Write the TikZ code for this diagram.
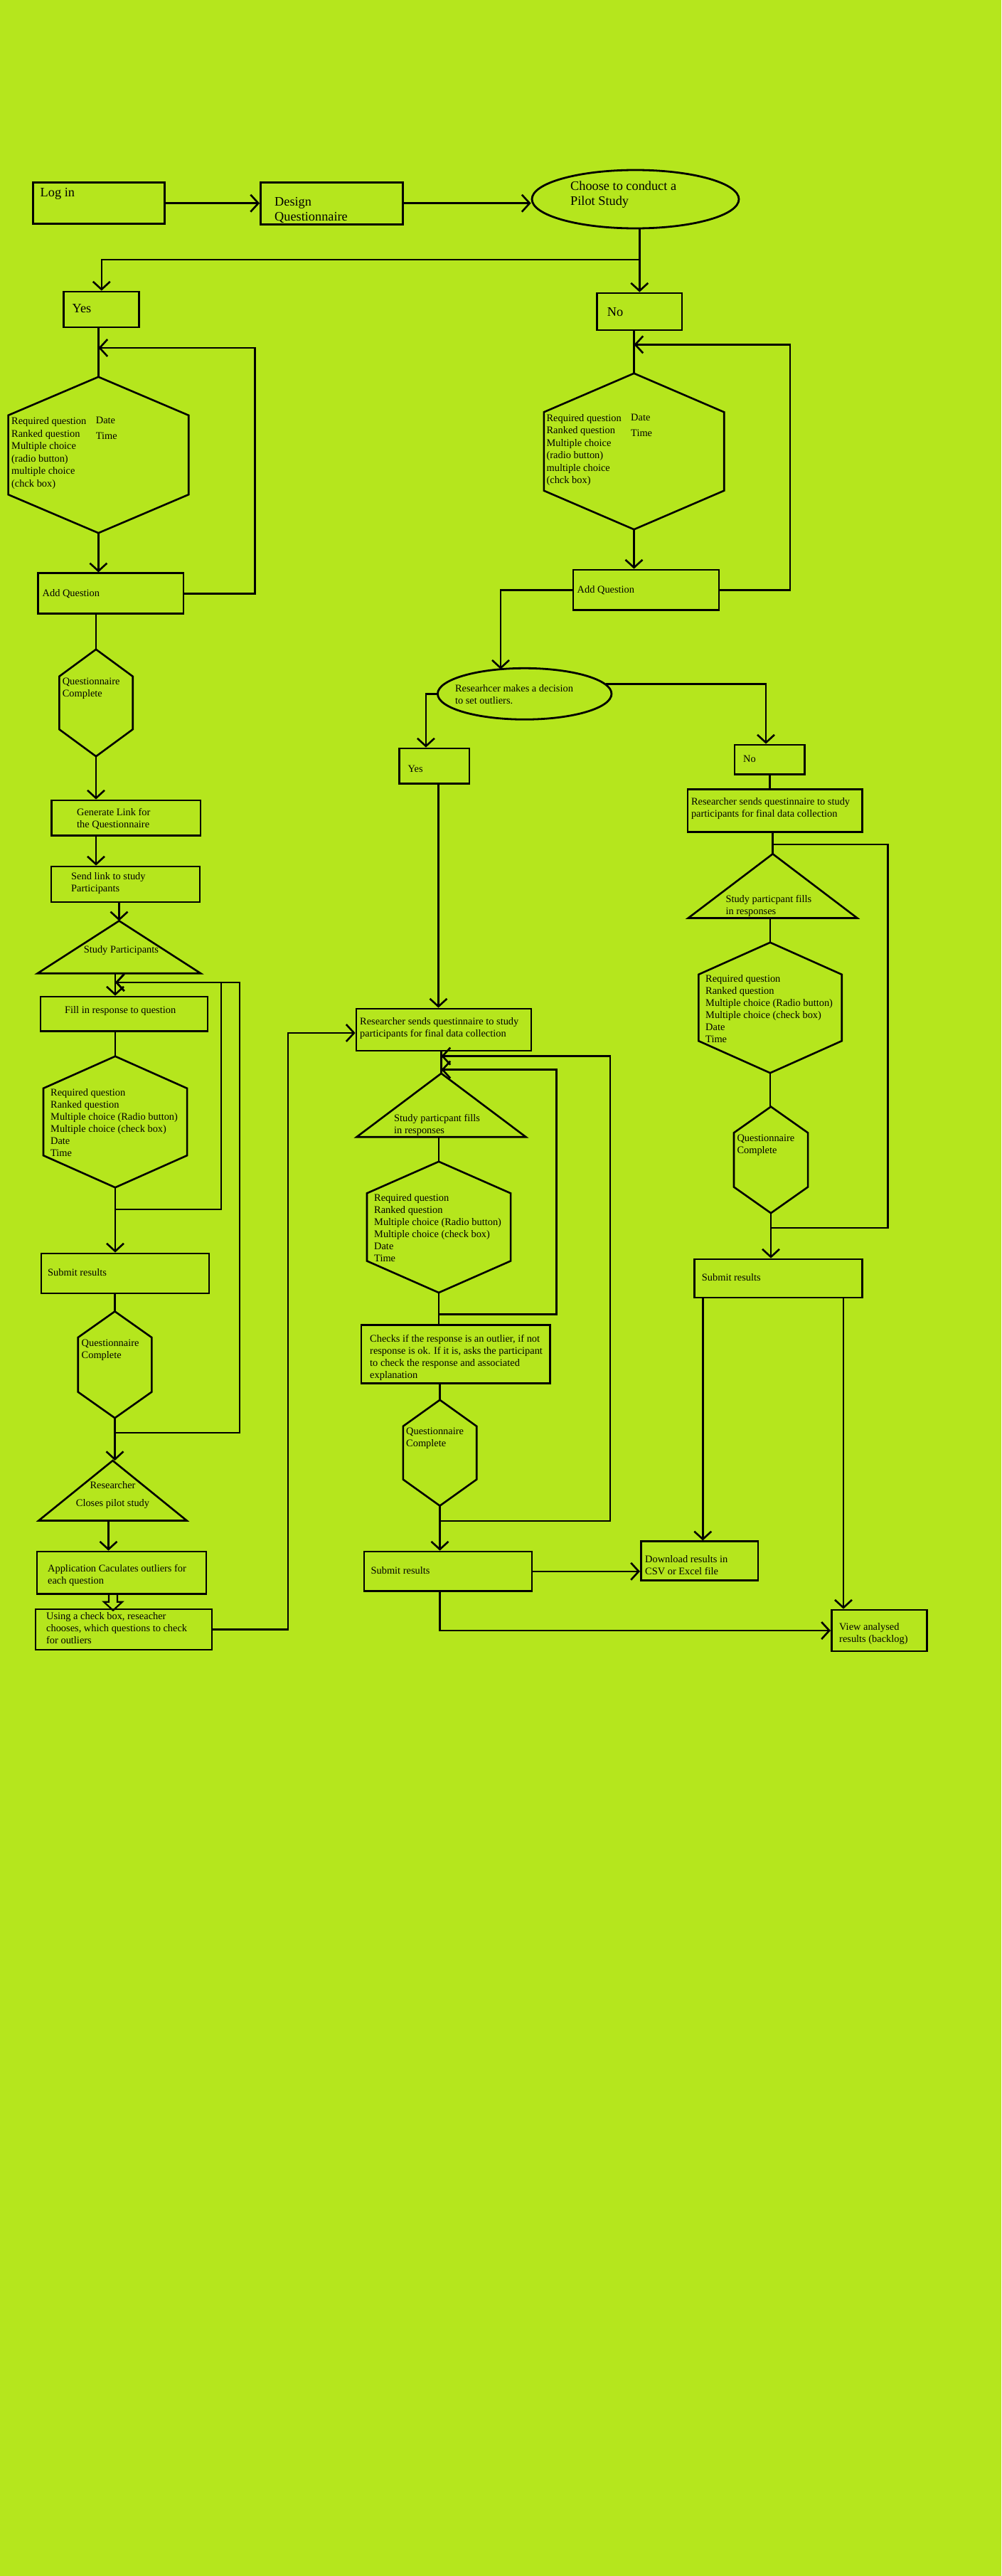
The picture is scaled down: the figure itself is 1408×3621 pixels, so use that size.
\documentclass[tikz,border=0pt]{standalone}
\usepackage{fontspec}
\setmainfont{Liberation Serif}
\usepackage{xcolor}
\usetikzlibrary{positioning,shapes.geometric,arrows.meta}
\definecolor{paintlime}{HTML}{B5E61D}

\begin{document}
\begin{tikzpicture}
		[x=1pt,y=-1pt,
		box/.style={rectangle,draw,line width=2.8pt,inner sep=0pt},
		oval/.style={ellipse,draw,line width=2.8pt,inner sep=0pt},
		frame/.style={rectangle,inner sep=0pt},
		shp/.style={draw,line width=2.6pt,line join=miter},
		conn/.style={line width=2.6pt},
		arr/.style={conn,-{Straight Barb[length=11pt,width=24pt]}},
		txt/.style={inner sep=0pt,align=left,anchor=north west,font=\fontsize{14.4}{17}\selectfont},
		hextxt/.style={txt,font=\fontsize{14.4}{17.5}\selectfont},
		bigtxt/.style={txt,font=\fontsize{18.3}{21}\selectfont}]
		\useasboundingbox (0,0) rectangle (1408,3621);
		\fill[paintlime] (0,0) rectangle (1408,3621);

		% top row
		\node [box, minimum width=185pt, minimum height=58pt] (login) at (139.2,285.7) {};
		\node [box, minimum width=200pt, minimum height=59pt] (design) [right=132pt of login] {};
		\node [oval, minimum width=291pt, minimum height=82pt] (pilot) at (893.5,280) {};
		\node [bigtxt] (tlogin) at (56.5,264.4) {Log in};
		\node [bigtxt] (tdesign) at (386,277.4) {Design\\Questionnaire};
		\node [bigtxt] (tpilot) at (802,254.6) {Choose to conduct a\\Pilot Study};

		\node [box, minimum width=106pt, minimum height=50pt] (yes) at (142.8,435) {};
		\node [box, minimum width=119.4pt, minimum height=52pt] (no) at (899.3,438) {};
		\node [bigtxt] (tyes) at (101.5,427.4) {Yes};
		\node [bigtxt] (tno) at (853.7,432.7) {No};

		\draw [arr] (login) -- (design);
		\draw [arr] (design.east) -- (design.east -| pilot.west);
		\coordinate (split) at (no.north |- 0,365);
		\draw [conn] (no.north |- pilot.south) -- (split);
		\draw [arr] (split) -- (no.north);
		\draw [arr] (split) -| (yes.north);

		% pilot study branch
		\node [frame, minimum width=253.3pt, minimum height=219pt] (hx1) at (138.4,639.5) {};
		\draw [shp] (hx1.north) -- ([yshift=-54pt]hx1.north east) -- ([yshift=54pt]hx1.south east) -- (hx1.south) -- ([yshift=54pt]hx1.south west) -- ([yshift=-54pt]hx1.north west) -- cycle;
		\node [hextxt] (thx1) at (16,586.5) {Required question\\Ranked question\\Multiple choice\\(radio button)\\multiple choice\\(chck box)};
		\node [txt] (thx1b) at (134.7,586) {Date\\[5pt]Time};
		\node [box, minimum width=204.5pt, minimum height=56.7pt] (aq1) at (155.8,834.2) {};
		\node [txt] (taq1) at (59.5,828) {Add Question};

		\coordinate (in1) at (hx1.north |- 0,489);
		\draw [conn] (yes.south -| hx1.north) -- (hx1.north);
		\draw [arr] (aq1.east) -- ++(98.8,0) |- (in1);
		\draw [arr] (hx1.south) -- (hx1.south |- aq1.north);

		\node [frame, minimum width=103pt, minimum height=150pt] (qc1) at (135,988) {};
		\draw [shp] (qc1.north) -- ([yshift=-38pt]qc1.north east) -- ([yshift=38pt]qc1.south east) -- (qc1.south) -- ([yshift=38pt]qc1.south west) -- ([yshift=-38pt]qc1.north west) -- cycle;
		\node [txt] (tqc1) at (87.6,952.5) {Questionnaire\\Complete};

		\node [box, minimum width=209.3pt, minimum height=49.5pt] (gen) at (177.4,1149.8) {};
		\node [txt] (tgen) at (108,1136.5) {Generate Link for\\the Questionnaire};
		\node [box, minimum width=209pt, minimum height=50pt] (send) at (176.5,1243) {};
		\node [txt] (tsend) at (100,1226.5) {Send link to study\\Participants};

		\node [frame, minimum width=229pt, minimum height=73.4pt] (tsp) at (167.5,1331.3) {};
		\draw [shp] (tsp.north) -- (tsp.south east) -- (tsp.south west) -- cycle;
		\node [txt] (ttsp) at (117.6,1329.5) {Study Participants};

		\draw [conn] (qc1.north |- aq1.south) -- (qc1.north);
		\draw [arr] (qc1.south) -- (qc1.south |- gen.north);
		\draw [arr] (gen.south -| qc1.south) -- (send.north -| qc1.south);
		\draw [arr] (tsp.north |- send.south) -- (tsp.north);

		\node [box, minimum width=235pt, minimum height=48.6pt] (resp) at (174.5,1425.3) {};
		\node [txt] (tresp) at (91,1414) {Fill in response to question};

		\node [frame, minimum width=201.7pt, minimum height=184pt] (hx3) at (162,1577) {};
		\draw [shp] (hx3.north) -- ([yshift=-45pt]hx3.north east) -- ([yshift=45pt]hx3.south east) -- (hx3.south) -- ([yshift=45pt]hx3.south west) -- ([yshift=-45pt]hx3.north west) -- cycle;
		\node [txt] (thx3) at (71,1530.5) {Required question\\Ranked question\\Multiple choice (Radio button)\\Multiple choice (check box)\\Date\\Time};

		\node [box, minimum width=236pt, minimum height=56pt] (sub1) at (176,1790) {};
		\node [txt] (tsub1) at (67,1783.5) {Submit results};

		\node [frame, minimum width=103.2pt, minimum height=149.4pt] (qc2) at (161.5,1918.3) {};
		\draw [shp] (qc2.north) -- ([yshift=-36.6pt]qc2.north east) -- ([yshift=36.6pt]qc2.south east) -- (qc2.south) -- ([yshift=36.6pt]qc2.south west) -- ([yshift=-36.6pt]qc2.north west) -- cycle;
		\node [txt] (tqc2) at (114.5,1882.5) {Questionnaire\\Complete};

		\node [frame, minimum width=208pt, minimum height=84pt] (trc) at (158.5,2095.3) {};
		\draw [shp] (trc.north) -- (trc.south east) -- (trc.south west) -- cycle;
		\node [txt, align=center, anchor=north] (ttrc) at (158.5,2082) {Researcher\\[8.6pt]Closes pilot study};

		\coordinate (in3) at (hx3.north |- 0,1381);
		\coordinate (j1) at (hx3.south |- 0,1700);
		\coordinate (j2) at (qc2.south |- 0,2014);
		\draw [arr] (tsp.south -| hx3.north) -- (resp.north -| hx3.north);
		\draw [conn] (resp.south -| hx3.north) -- (hx3.north);
		\draw [arr] (hx3.south) -- (hx3.south |- sub1.north);
		\draw [arr] (j1) -- ++(149,0) |- (in3);
		\draw [arr] (j2) -- ++(175.5,0) |- (in3);
		\draw [conn] (qc2.north |- sub1.south) -- (qc2.north);
		\draw [arr] (qc2.south) -- (qc2.south |- trc.north);

		\node [box, minimum width=238pt, minimum height=59.7pt] (app) at (171,2210.9) {};
		\node [txt] (tapp) at (67,2199.5) {Application Caculates outliers for\\each question};
		\node [box, minimum width=248pt, minimum height=57pt] (pick) at (174,2290.5) {};
		\node [txt] (tpick) at (65,2266.5) {Using a check box, reseacher\\chooses, which questions to check\\for outliers};

		\coordinate (rcout) at ([xshift=-6pt]trc.south);
		\draw [arr] (rcout) -- (rcout |- app.north);
		\draw [line width=2.2pt, line join=miter] (app.south) ++(-18,0) -- ++(0,9.5) -- ++(-7,0) -- ++(13,12) -- ++(13,-12) -- ++(-7,0) -- ++(0,-9.5);

		% no pilot study branch
		\node [frame, minimum width=253pt, minimum height=219pt] (hx2) at (891.5,634.5) {};
		\draw [shp] (hx2.north) -- ([yshift=-54.5pt]hx2.north east) -- ([yshift=54.5pt]hx2.south east) -- (hx2.south) -- ([yshift=54.5pt]hx2.south west) -- ([yshift=-54.5pt]hx2.north west) -- cycle;
		\node [hextxt] (thx2) at (768.4,582) {Required question\\Ranked question\\Multiple choice\\(radio button)\\multiple choice\\(chck box)};
		\node [txt] (thx2b) at (887,581.5) {Date\\[5pt]Time};
		\node [box, minimum width=205pt, minimum height=56.6pt] (aq2) at (908.5,829.3) {};
		\node [txt] (taq2) at (811.5,823) {Add Question};

		\coordinate (in2) at (hx2.north |- 0,484.4);
		\draw [conn] (no.south -| hx2.north) -- (hx2.north);
		\draw [arr] (aq2.east) -- ++(98.5,0) |- (in2);
		\draw [arr] (hx2.south) -- (hx2.south |- aq2.north);

		\node [oval, minimum width=244.5pt, minimum height=72pt] (dec) at (737.7,975.3) {};
		\node [txt] (tdec) at (639.8,962) {Researhcer makes a decision\\to set outliers.};
		\coordinate (decin) at (704,940.7);
		\draw [arr] (aq2.west) -| (decin);

		\node [box, minimum width=98.3pt, minimum height=49.8pt] (yes2) at (610.9,1076.9) {};
		\node [txt] (tyes2) at (573.5,1075.5) {Yes};
		\node [box, minimum width=98.6pt, minimum height=41.8pt] (no2) at (1082.3,1067.9) {};
		\node [txt] (tno2) at (1045,1062) {No};
		\draw [arr] (dec.west) -| ([xshift=-12pt]yes2.north);
		\draw [arr] (dec.7) -| ([xshift=-5.3pt]no2.north);

		% middle column
		\node [box, minimum width=246pt, minimum height=59pt] (rs1) at (624,1447.5) {};
		\node [txt] (trs1) at (506,1430) {Researcher sends questinnaire to study\\participants for final data collection};
		\coordinate (y2out) at ([xshift=5.6pt]yes2.south);
		\draw [arr] (y2out) -- (y2out |- rs1.north);
		\coordinate (rsin) at ([yshift=-4.5pt]rs1.west);
		\draw [arr] (pick.east) -| ([xshift=-94.6pt]rsin) -- (rsin);

		\node [frame, minimum width=237.6pt, minimum height=89pt] (tsf1) at (620.5,1553.5) {};
		\draw [shp] (tsf1.north) -- (tsf1.south east) -- (tsf1.south west) -- cycle;
		\node [txt] (ttsf1) at (554,1566) {Study particpant fills\\in responses};

		\node [frame, minimum width=201.7pt, minimum height=183.8pt] (hx4) at (617,1724.9) {};
		\draw [shp] (hx4.north) -- ([yshift=-44.5pt]hx4.north east) -- ([yshift=44.5pt]hx4.south east) -- (hx4.south) -- ([yshift=44.5pt]hx4.south west) -- ([yshift=-44.5pt]hx4.north west) -- cycle;
		\node [txt] (thx4) at (526,1678.5) {Required question\\Ranked question\\Multiple choice (Radio button)\\Multiple choice (check box)\\Date\\Time};

		\node [box, minimum width=265.7pt, minimum height=82pt] (chk) at (640.8,1903.5) {};
		\node [txt] (tchk) at (520,1876.5) {Checks if the response is an outlier, if not\\response is ok. If it is, asks the participant\\to check the response and associated\\explanation};

		\node [frame, minimum width=103pt, minimum height=148.4pt] (qc3) at (618.5,2042.2) {};
		\draw [shp] (qc3.north) -- ([yshift=-37pt]qc3.north east) -- ([yshift=37pt]qc3.south east) -- (qc3.south) -- ([yshift=37pt]qc3.south west) -- ([yshift=-37pt]qc3.north west) -- cycle;
		\node [txt] (tqc3) at (571,2007) {Questionnaire\\Complete};

		\node [box, minimum width=236pt, minimum height=55.5pt] (sub2) at (630,2208.8) {};
		\node [txt] (tsub2) at (521.4,2202.5) {Submit results};

		\coordinate (in4) at (tsf1.north |- 0,1484.6);
		\coordinate (in5) at (tsf1.north |- 0,1503.6);
		\coordinate (j3) at (hx4.south |- 0,1847.5);
		\coordinate (j4) at (qc3.south |- 0,2138);
		\draw [conn] (rs1.south -| tsf1.north) -- (tsf1.north);
		\draw [conn] (tsf1.south -| hx4.north) -- (hx4.north);
		\draw [conn] (hx4.south) -- (hx4.south |- chk.north);
		\draw [arr] (j3) -- ++(165.3,0) |- (in5);
		\draw [conn] (qc3.north |- chk.south) -- (qc3.north);
		\draw [arr] (j4) -- ++(239.5,0) |- (in4);
		\draw [arr] (qc3.south) -- (qc3.south |- sub2.north);

		% right column
		\node [box, minimum width=245.7pt, minimum height=60.1pt] (rs2) at (1089.9,1139.8) {};
		\node [txt] (trs2) at (971.8,1121.5) {Researcher sends questinnaire to study\\participants for final data collection};
		\node [frame, minimum width=237.3pt, minimum height=89.8pt] (tsf2) at (1086.6,1245.4) {};
		\draw [shp] (tsf2.north) -- (tsf2.south east) -- (tsf2.south west) -- cycle;
		\node [txt] (ttsf2) at (1020.3,1257.8) {Study particpant fills\\in responses};

		\node [frame, minimum width=201pt, minimum height=183pt] (hx5) at (1083,1416.5) {};
		\draw [shp] (hx5.north) -- ([yshift=-45pt]hx5.north east) -- ([yshift=45pt]hx5.south east) -- (hx5.south) -- ([yshift=45pt]hx5.south west) -- ([yshift=-45pt]hx5.north west) -- cycle;
		\node [txt] (thx5) at (992,1370.5) {Required question\\Ranked question\\Multiple choice (Radio button)\\Multiple choice (check box)\\Date\\Time};

		\node [frame, minimum width=103.7pt, minimum height=149.2pt] (qc4) at (1084,1630.4) {};
		\draw [shp] (qc4.north) -- ([yshift=-36.7pt]qc4.north east) -- ([yshift=36.7pt]qc4.south east) -- (qc4.south) -- ([yshift=36.7pt]qc4.south west) -- ([yshift=-36.7pt]qc4.north west) -- cycle;
		\node [txt] (tqc4) at (1036.3,1594.5) {Questionnaire\\Complete};

		\node [box, minimum width=236pt, minimum height=54pt] (sub3) at (1094.7,1797) {};
		\node [txt] (tsub3) at (986.7,1790) {Submit results};

		\draw [conn] (no2.south) -- (no2.south |- rs2.north);
		\draw [conn] (rs2.south -| tsf2.north) -- (tsf2.north);
		\draw [conn] (tsf2.south -| hx5.north) -- (hx5.north);
		\draw [conn] (hx5.south) -- (hx5.south |- qc4.north);
		\coordinate (in6) at (tsf2.north |- 0,1187);
		\coordinate (j5) at (qc4.south |- 0,1726);
		\draw [conn] (j5) -- ++(164.5,0) |- (in6);
		\draw [arr] (qc4.south) -- (qc4.south |- sub3.north);

		% results
		\node [box, minimum width=164.7pt, minimum height=55pt] (dl) at (983.7,2194.3) {};
		\node [txt] (tdl) at (907,2186.5) {Download results in\\CSV or Excel file};
		\node [box, minimum width=134.3pt, minimum height=58pt] (view) at (1236.5,2292) {};
		\node [txt] (tview) at (1180,2281.5) {View analysed\\results (backlog)};

		\coordinate (dlin) at ([xshift=4.6pt]dl.north);
		\coordinate (vin) at ([xshift=-50.5pt]view.north);
		\draw [arr] (dlin |- sub3.south) -- (dlin);
		\draw [arr] (vin |- sub3.south) -- (vin);
		\draw [arr] (sub2.east) -- (sub2.east -| dl.west);
		\draw [arr] (sub2.south -| qc3.south) |- (view.west);

	\end{tikzpicture}
\end{document}
